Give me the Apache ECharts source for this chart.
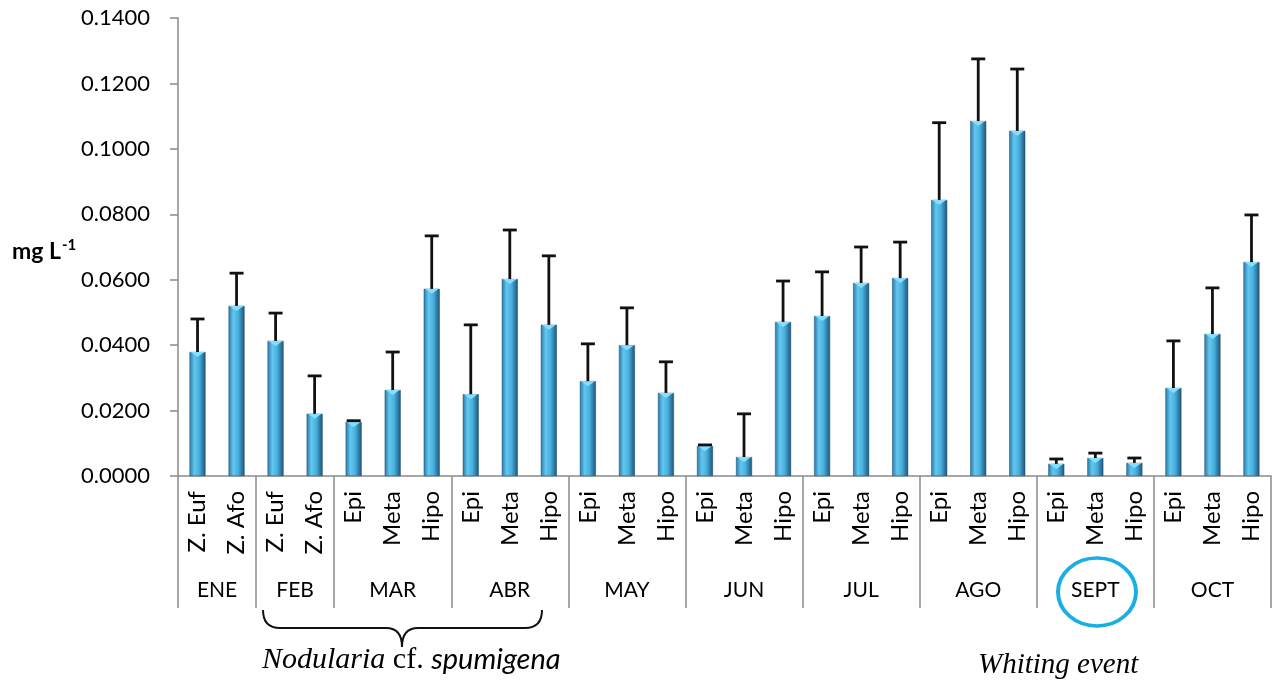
<!DOCTYPE html>
<html>
<head>
<meta charset="utf-8">
<script src="https://cdn.jsdelivr.net/npm/echarts@6/dist/echarts.min.js"></script>
<style>
  html, body { margin: 0; background: #fff; }
  #chart { width: 1273px; height: 685px; }
</style>
</head>
<body>
<div id="chart"></div>
<script>
// months and how many bars each one holds
const months = ["ENE", "FEB", "MAR", "ABR", "MAY", "JUN", "JUL", "AGO", "SEPT", "OCT"];
const monthSizes = [2, 2, 3, 3, 3, 3, 3, 3, 3, 3];

const layers = [
  "Z. Euf", "Z. Afo",
  "Z. Euf", "Z. Afo",
  "Epi", "Meta", "Hipo",
  "Epi", "Meta", "Hipo",
  "Epi", "Meta", "Hipo",
  "Epi", "Meta", "Hipo",
  "Epi", "Meta", "Hipo",
  "Epi", "Meta", "Hipo",
  "Epi", "Meta", "Hipo",
  "Epi", "Meta", "Hipo",
];

const means = [
  0.0379, 0.0520,
  0.0413, 0.0190,
  0.0165, 0.0263, 0.0572,
  0.0250, 0.0602, 0.0462,
  0.0290, 0.0400, 0.0254,
  0.0092, 0.0058, 0.0471,
  0.0489, 0.0590, 0.0605,
  0.0844, 0.1085, 0.1055,
  0.0037, 0.0055, 0.0040,
  0.0269, 0.0434, 0.0654,
];

const sds = [
  0.0101, 0.0100,
  0.0085, 0.0116,
  0.0004, 0.0116, 0.0162,
  0.0212, 0.0150, 0.0211,
  0.0114, 0.0114, 0.0095,
  0.0003, 0.0132, 0.0125,
  0.0135, 0.0110, 0.0110,
  0.0236, 0.0190, 0.0189,
  0.0015, 0.0015, 0.0015,
  0.0144, 0.0141, 0.0144,
];

// group edges and centres on a 0..28 scale
const edges = [0];
monthSizes.forEach((n) => edges.push(edges[edges.length - 1] + n));
const mids = months.map((_, i) => (edges[i] + edges[i + 1]) / 2);

const FONT = "Lato, 'Open Sans', sans-serif";
const SERIF = "'Liberation Serif', 'DejaVu Serif', serif";
const chart = echarts.init(document.getElementById("chart"));

const barColor = new echarts.graphic.LinearGradient(0, 0, 1, 0, [
  { offset: 0, color: "#2a78a6" },
  { offset: 0.3, color: "#62c8f0" },
  { offset: 0.6, color: "#49b0de" },
  { offset: 1, color: "#1c5479" },
]);

// error bar (upper only) plus the little bevel highlight on the bar top
function renderError(params, api) {
  const i = api.value(0);
  const m = api.value(1);
  const s = api.value(2);
  const base = api.coord([i, m]);
  const top = api.coord([i, m + s]);
  const half = 7;
  const style = { stroke: "#111", lineWidth: 2.8 };
  const bevelH = Math.min(5, api.coord([i, 0])[1] - base[1]);
  return {
    type: "group",
    children: [
      {
        type: "polygon",
        shape: { points: [[base[0] - 7, base[1]], [base[0] + 7, base[1]], [base[0], base[1] + bevelH]] },
        style: { fill: "#86defc" },
      },
      { type: "line", shape: { x1: base[0], y1: base[1], x2: top[0], y2: top[1] }, style },
      { type: "line", shape: { x1: top[0] - half, y1: top[1], x2: top[0] + half, y2: top[1] }, style },
    ],
  };
}

// curly brace under FEB..ABR, made of curves and lines
const braceStyle = { stroke: "#111", lineWidth: 2, fill: null };
const brace = [
  { type: "bezierCurve", shape: { x1: 263, y1: 610, cpx1: 263, cpy1: 628, x2: 280, y2: 628 }, style: braceStyle },
  { type: "line", shape: { x1: 280, y1: 628, x2: 386, y2: 628 }, style: braceStyle },
  { type: "bezierCurve", shape: { x1: 386, y1: 628, cpx1: 402, cpy1: 628, x2: 402, y2: 647 }, style: braceStyle },
  { type: "bezierCurve", shape: { x1: 402, y1: 647, cpx1: 402, cpy1: 628, x2: 418, y2: 628 }, style: braceStyle },
  { type: "line", shape: { x1: 418, y1: 628, x2: 525, y2: 628 }, style: braceStyle },
  { type: "bezierCurve", shape: { x1: 525, y1: 628, cpx1: 542, cpy1: 628, x2: 542, y2: 610 }, style: braceStyle },
];

const option = {
  backgroundColor: "#fff",
  animation: false,
  grid: { left: 178, right: 2, top: 18, bottom: 209 },
  xAxis: [
    {
      type: "category",
      data: layers,
      boundaryGap: true,
      axisLine: { show: false },
      axisTick: { show: false },
      axisLabel: {
        interval: 0,
        rotate: 90,
        margin: 15,
        color: "#000",
        fontFamily: FONT,
        fontSize: 24,
      },
    },
    {
      type: "value",
      position: "bottom",
      min: 0,
      max: 28,
      splitLine: { show: false },
      axisLine: { show: true, lineStyle: { color: "#8a8a8a", width: 1.5 } },
      axisTick: {
        show: true,
        customValues: edges,
        length: 132,
        lineStyle: { color: "#8a8a8a", width: 1.5 },
      },
      axisLabel: {
        show: true,
        customValues: mids,
        margin: 104,
        color: "#000",
        fontFamily: FONT,
        fontSize: 21,
        formatter: (v) => months[mids.indexOf(v)],
      },
    },
  ],
  yAxis: {
    type: "value",
    min: 0,
    max: 0.14,
    interval: 0.02,
    splitLine: { show: false },
    axisLine: { show: true, lineStyle: { color: "#8a8a8a", width: 1.5 } },
    axisTick: { show: true, length: 8, lineStyle: { color: "#8a8a8a", width: 1.5 } },
    axisLabel: {
      margin: 28,
      color: "#000",
      fontFamily: FONT,
      fontSize: 22,
      formatter: (v) => v.toFixed(4),
    },
  },
  series: [
    {
      type: "bar",
      data: means,
      barWidth: 16,
      itemStyle: { color: barColor, borderColor: "#1e4f6e", borderWidth: 0.5 },
    },
    {
      type: "custom",
      renderItem: renderError,
      data: means.map((m, i) => [i, m, sds[i]]),
      z: 5,
    },
  ],
  graphic: [
    {
      type: "text",
      left: 12,
      top: 238,
      style: {
        text: "{b|mg L}{s|-1}",
        rich: {
          b: { fontFamily: FONT, fontWeight: "bold", fontSize: 23, fill: "#000" },
          s: { fontFamily: FONT, fontWeight: "bold", fontSize: 15, fill: "#000", verticalAlign: "top", padding: [0, 0, 12, 1] },
        },
      },
    },
    ...brace,
    {
      type: "text",
      left: 262,
      top: 645,
      style: {
        text: "{i|Nodularia}{n| cf. }{c|spumigena}",
        rich: {
          i: { fontFamily: SERIF, fontStyle: "italic", fontSize: 30, fill: "#000" },
          n: { fontFamily: SERIF, fontSize: 30, fill: "#000" },
          c: { fontFamily: FONT, fontStyle: "italic", fontSize: 29, fill: "#000" },
        },
      },
    },
    {
      type: "text",
      left: 978,
      top: 651,
      style: {
        text: "Whiting event",
        fontFamily: SERIF,
        fontStyle: "italic",
        fontSize: 29,
        fill: "#000",
      },
    },
    {
      type: "circle",
      x: 1097,
      y: 592,
      scaleY: 34 / 39,
      shape: { cx: 0, cy: 0, r: 39 },
      style: { stroke: "#19aee6", lineWidth: 4, fill: null, strokeNoScale: true },
    },
  ],
};

chart.setOption(option);
</script>
</body>
</html>
